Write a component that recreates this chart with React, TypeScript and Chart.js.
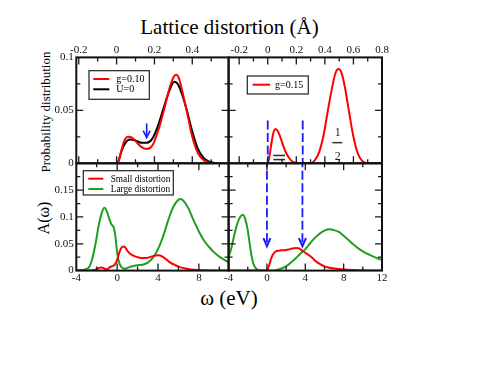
import React, { useEffect, useRef } from 'react';
import { Chart, registerables } from 'chart.js';

Chart.register(...registerables);

const W = 494;
const H = 382;
const SERIF = "'Liberation Serif', 'Times New Roman', Times, serif";

// ---------------- tick labels ----------------
const distTicksLeft = [-0.2, 0, 0.2, 0.4];
const distMinorLeft = [-0.1, 0.1, 0.3, 0.5];
const distTicksRight = [-0.2, 0, 0.2, 0.4, 0.6, 0.8];
const distMinorRight = [-0.1, 0.1, 0.3, 0.5, 0.7];
const omegaTicksLeft = [-4, 0, 4, 8];
const omegaTicksRight = [-4, 0, 4, 8, 12];
const omegaMinor = [-2, 2, 6, 10];
const probTicks = [0, 0.05, 0.1];
const probMinor = [0.025, 0.075];
const specTicks = [0, 0.05, 0.1, 0.15];
const specMinor = [0.025, 0.075, 0.125, 0.175];

// ---------------- series: probability distribution (lattice distortion, Å) ----------------
const g010Dist = [0, 0.01, 0.025, 0.04, 0.06, 0.08, 0.1, 0.13, 0.16, 0.19, 0.22, 0.25, 0.28, 0.3, 0.315, 0.33, 0.35, 0.37, 0.4, 0.43, 0.46, 0.49, 0.52];
const g010Prob = [0, 0.002, 0.012, 0.021, 0.025, 0.0245, 0.021, 0.0155, 0.0135, 0.017, 0.031, 0.05, 0.071, 0.081, 0.0835, 0.08, 0.066, 0.05, 0.025, 0.0095, 0.003, 0.0005, 0];
const u0Dist = [0, 0.01, 0.025, 0.045, 0.07, 0.1, 0.13, 0.16, 0.19, 0.22, 0.25, 0.28, 0.305, 0.325, 0.35, 0.37, 0.4, 0.43, 0.46, 0.49, 0.53];
const u0Prob = [0, 0.002, 0.011, 0.019, 0.0225, 0.0215, 0.0195, 0.0195, 0.0235, 0.036, 0.053, 0.069, 0.077, 0.0745, 0.063, 0.051, 0.03, 0.0135, 0.005, 0.0015, 0];
const g015Dist = [0, 0.01, 0.025, 0.04, 0.055, 0.07, 0.09, 0.11, 0.13, 0.15, 0.17, 0.2, 0.23, 0.3, 0.33, 0.36, 0.39, 0.42, 0.45, 0.475, 0.495, 0.515, 0.54, 0.57, 0.6, 0.63, 0.66, 0.7, 0.8];
const g015Prob = [0, 0.005, 0.018, 0.029, 0.0325, 0.0305, 0.024, 0.016, 0.0095, 0.005, 0.002, 0.0005, 0, 0, 0.003, 0.0105, 0.026, 0.049, 0.071, 0.0855, 0.089, 0.086, 0.072, 0.048, 0.025, 0.0095, 0.0025, 0, 0];

// ---------------- series: spectral function A(ω) ----------------
const smallLeftOmega = [-4, -2.6, -2.2, -1.9, -1.55, -1.25, -1.0, -0.75, -0.4, -0.2, 0.0, 0.2, 0.4, 0.6, 0.8, 1.0, 1.3, 1.7, 2.1, 2.5, 3.0, 3.5, 4.0, 4.4, 4.8, 5.2, 5.7, 6.2, 6.8, 7.5, 8.5, 10, 10.91];
const smallLeftA = [0, 0, 0.001, 0.004, 0.006, 0.004, 0.002, 0.006, 0.009, 0.012, 0.02, 0.033, 0.042, 0.045, 0.043, 0.037, 0.031, 0.027, 0.0245, 0.0235, 0.024, 0.027, 0.0285, 0.0265, 0.021, 0.015, 0.01, 0.006, 0.0035, 0.0015, 0.0005, 0, 0];
const largeLeftOmega = [-4, -3.5, -3, -2.7, -2.4, -2.1, -1.8, -1.5, -1.25, -1.0, -0.75, -0.55, -0.35, -0.2, -0.05, 0.1, 0.25, 0.45, 0.75, 1.0, 1.4, 2.0, 2.5, 3.0, 3.5, 4.0, 4.5, 5.0, 5.5, 6.0, 6.2, 6.5, 7.0, 7.5, 8.0, 8.5, 9.0, 9.5, 10.0, 10.5, 10.91];
const largeLeftA = [0, 0.001, 0.003, 0.008, 0.025, 0.052, 0.085, 0.108, 0.117, 0.11, 0.095, 0.086, 0.081, 0.068, 0.042, 0.022, 0.012, 0.006, 0.0035, 0.005, 0.0075, 0.01, 0.011, 0.015, 0.024, 0.04, 0.064, 0.094, 0.119, 0.132, 0.1335, 0.13, 0.115, 0.093, 0.073, 0.056, 0.044, 0.034, 0.026, 0.02, 0.016];
const smallRightOmega = [-4, -0.05, 0.1, 0.25, 0.45, 0.6, 0.8, 1.1, 1.5, 2.0, 2.5, 3.0, 3.3, 3.7, 4.1, 4.6, 5.0, 5.5, 6.0, 6.5, 7.0, 8.0, 9.0, 10, 11, 12];
const smallRightA = [0, 0, 0.004, 0.011, 0.023, 0.029, 0.034, 0.037, 0.0378, 0.0385, 0.0405, 0.042, 0.0415, 0.037, 0.032, 0.026, 0.019, 0.0125, 0.008, 0.0055, 0.004, 0.002, 0.001, 0.0005, 0, 0];
const largeRightOmega = [-4, -3.7, -3.4, -3.1, -2.8, -2.5, -2.25, -2.0, -1.8, -1.6, -1.4, -1.1, -0.6, 0.5, 1.0, 1.5, 2.0, 2.5, 3.0, 3.5, 4.0, 4.5, 5.0, 5.5, 6.0, 6.5, 7.0, 7.5, 8.0, 8.5, 9.0, 9.5, 10.0, 10.5, 11.0, 11.5, 12.0];
const largeRightA = [0.024, 0.043, 0.067, 0.087, 0.1, 0.104, 0.095, 0.075, 0.05, 0.027, 0.012, 0.003, 0, 0, 0.001, 0.004, 0.008, 0.015, 0.023, 0.032, 0.04, 0.051, 0.061, 0.069, 0.0745, 0.077, 0.0755, 0.072, 0.065, 0.057, 0.049, 0.042, 0.036, 0.031, 0.027, 0.023, 0.02];

// ---------------- annotations (data coordinates) ----------------
const solidArrowDist = 0.159;
const solidArrowProb = [0.0377, 0.0243];
const dashedArrowDist = [0, 0.245];
const dashedArrowOmega = [0, 3.7];
const dashedTopProb = 0.0403;
const dashedTipA = 0.0456;

const RED = '#ff0000';
const GREEN = '#1f9f1f';
const BLACK = '#000000';
const BLUE = '#1a1aff';

// panel geometry
const PL = 76.3, PM = 228.6, PR = 382, PT = 57.4, PH = 163.3, PB = 270.6;
const AXIS_BAND = 30; // room given to each labelled axis

type Series = { label: string; x: number[]; y: number[]; color: string };
type Panel = {
  area: [number, number, number, number];
  xPos: 'top' | 'bottom';
  xRange: [number, number];
  xTicks: number[];
  xMinor: number[];
  yRange: [number, number];
  yTicks: number[];
  yMinor: number[];
  yLabels: boolean;
  series: Series[];
  extra?: (chart: any) => void;
};

function drawLegend(chart: any, box: number[], lineX: number[], textX: number, rows: number[], size: number) {
  const { ctx, chartArea: a } = chart;
  ctx.save();
  ctx.fillStyle = '#ffffff';
  ctx.fillRect(a.left + box[0], a.top + box[1], box[2], box[3]);
  ctx.strokeStyle = '#222';
  ctx.lineWidth = 1.2;
  ctx.strokeRect(a.left + box[0], a.top + box[1], box[2], box[3]);
  chart.data.datasets.forEach((d: any, i: number) => {
    const y = a.top + rows[i];
    ctx.strokeStyle = d.borderColor;
    ctx.lineWidth = 2;
    ctx.beginPath();
    ctx.moveTo(a.left + lineX[0], y);
    ctx.lineTo(a.left + lineX[1], y);
    ctx.stroke();
    ctx.fillStyle = '#000';
    ctx.font = `${size}px ${SERIF}`;
    ctx.textAlign = 'left';
    ctx.textBaseline = 'middle';
    ctx.fillText(d.label, a.left + textX, y + 0.5);
  });
  ctx.restore();
}

function arrowHead(ctx: any, x: number, tip: number, w: number, h: number) {
  ctx.setLineDash([]);
  ctx.beginPath();
  ctx.moveTo(x - w, tip - h);
  ctx.lineTo(x, tip);
  ctx.lineTo(x + w, tip - h);
  ctx.stroke();
}

function makeFrame(p: Panel) {
  return {
    id: 'frameAndMarks',
    afterDraw(chart: any) {
      const { ctx, chartArea: a } = chart;
      const xs = chart.scales.x;
      const ys = chart.scales.y;
      ctx.save();
      if (p.extra) p.extra(chart);
      ctx.strokeStyle = '#1a1a1a';
      ctx.lineWidth = 1.3;
      ctx.setLineDash([]);
      const xt = (vals: number[], len: number) => {
        for (const v of vals) {
          const px = xs.getPixelForValue(v);
          if (px <= a.left + 1 || px >= a.right - 1) continue;
          ctx.beginPath();
          ctx.moveTo(px, a.top);
          ctx.lineTo(px, a.top + len);
          ctx.moveTo(px, a.bottom);
          ctx.lineTo(px, a.bottom - len);
          ctx.stroke();
        }
      };
      const yt = (vals: number[], len: number) => {
        for (const v of vals) {
          const py = ys.getPixelForValue(v);
          if (py <= a.top + 1 || py >= a.bottom - 1) continue;
          ctx.beginPath();
          ctx.moveTo(a.left, py);
          ctx.lineTo(a.left + len, py);
          ctx.moveTo(a.right, py);
          ctx.lineTo(a.right - len, py);
          ctx.stroke();
        }
      };
      xt(p.xTicks, 7);
      xt(p.xMinor, 4);
      yt(p.yTicks, 7);
      yt(p.yMinor, 4);
      ctx.lineWidth = 2;
      ctx.strokeStyle = '#111';
      ctx.strokeRect(a.left, a.top, a.right - a.left, a.bottom - a.top);
      ctx.restore();
    },
  };
}

function buildChart(canvas: HTMLCanvasElement, p: Panel) {
  const [l, t, r, b] = p.area;
  const tickFont = { family: SERIF, size: 11 };
  const yBand = p.yLabels ? AXIS_BAND : 0;
  const pad = {
    left: l - yBand,
    top: p.xPos === 'top' ? t - AXIS_BAND : t,
    right: W - r,
    bottom: p.xPos === 'bottom' ? H - b - AXIS_BAND : H - b,
  };
  return new Chart(canvas, {
    type: 'scatter',
    data: {
      datasets: p.series.map((s) => ({
        label: s.label,
        data: s.x.map((xv, i) => ({ x: xv, y: s.y[i] })),
        showLine: true,
        borderColor: s.color,
        backgroundColor: s.color,
        borderWidth: 2,
        pointRadius: 0,
        pointHoverRadius: 0,
        fill: false,
        cubicInterpolationMode: 'monotone',
      })),
    },
    options: {
      responsive: false,
      animation: false,
      events: [],
      devicePixelRatio: 1,
      layout: { autoPadding: false, padding: pad },
      plugins: { legend: { display: false }, tooltip: { enabled: false }, title: { display: false } },
      scales: {
        x: {
          type: 'linear',
          position: p.xPos,
          min: p.xRange[0],
          max: p.xRange[1],
          afterBuildTicks: (s: any) => {
            s.ticks = p.xTicks.map((v) => ({ value: v }));
          },
          afterFit: (s: any) => {
            s.height = AXIS_BAND;
          },
          ticks: {
            autoSkip: false,
            maxRotation: 0,
            minRotation: 0,
            padding: p.xPos === 'top' ? 0.6 : 0.8,
            font: tickFont,
            color: '#111',
            callback: (v: any) => String(v),
          },
          grid: { display: false, drawTicks: false },
          border: { display: false },
        },
        y: {
          type: 'linear',
          display: p.yLabels,
          min: p.yRange[0],
          max: p.yRange[1],
          afterBuildTicks: (s: any) => {
            s.ticks = p.yTicks.map((v) => ({ value: v }));
          },
          afterFit: (s: any) => {
            s.width = yBand;
          },
          ticks: {
            autoSkip: false,
            padding: 2.5,
            font: tickFont,
            color: '#111',
            callback: (v: any) => String(v),
          },
          grid: { display: false, drawTicks: false },
          border: { display: false },
        },
      },
    } as any,
    plugins: [makeFrame(p)],
  });
}

const panels: Panel[] = [
  {
    area: [PL, PT, PM, PH],
    xPos: 'top',
    xRange: [-0.213, 0.592],
    xTicks: distTicksLeft,
    xMinor: distMinorLeft,
    yRange: [0, 0.1],
    yTicks: probTicks,
    yMinor: probMinor,
    yLabels: true,
    series: [
      { label: 'g=0.10', x: g010Dist, y: g010Prob, color: RED },
      { label: 'U=0', x: u0Dist, y: u0Prob, color: BLACK },
    ],
    extra: (chart: any) => {
      const { ctx } = chart;
      const xs = chart.scales.x;
      const ys = chart.scales.y;
      drawLegend(chart, [12.7, 13.3, 60.3, 28.6], [17, 33], 40, [21.6, 31.9], 10);
      const x = xs.getPixelForValue(solidArrowDist);
      const y0 = ys.getPixelForValue(solidArrowProb[0]);
      const y1 = ys.getPixelForValue(solidArrowProb[1]);
      ctx.strokeStyle = BLUE;
      ctx.lineWidth = 1.6;
      ctx.beginPath();
      ctx.moveTo(x, y0);
      ctx.lineTo(x, y1);
      ctx.stroke();
      arrowHead(ctx, x, y1, 3.5, 7);
    },
  },
  {
    area: [PM, PT, PR, PH],
    xPos: 'top',
    xRange: [-0.274, 0.8],
    xTicks: distTicksRight,
    xMinor: distMinorRight,
    yRange: [0, 0.1],
    yTicks: probTicks,
    yMinor: probMinor,
    yLabels: false,
    series: [{ label: 'g=0.15', x: g015Dist, y: g015Prob, color: RED }],
    extra: (chart: any) => {
      const { ctx, chartArea: a } = chart;
      const xs = chart.scales.x;
      const ys = chart.scales.y;
      drawLegend(chart, [18.7, 18.6, 61, 18], [24.1, 41.4], 46.4, [27.3], 10);
      ctx.strokeStyle = BLUE;
      ctx.lineWidth = 1.8;
      ctx.setLineDash([9, 3.5]);
      for (const d of dashedArrowDist) {
        const x = xs.getPixelForValue(d);
        ctx.beginPath();
        ctx.moveTo(x, ys.getPixelForValue(dashedTopProb));
        ctx.lineTo(x, a.bottom);
        ctx.stroke();
      }
      ctx.setLineDash([]);
      ctx.strokeStyle = '#333';
      ctx.lineWidth = 1.6;
      for (const yv of [0.0074, 0.0035]) {
        const py = ys.getPixelForValue(yv);
        ctx.beginPath();
        ctx.moveTo(xs.getPixelForValue(0.039), py);
        ctx.lineTo(xs.getPixelForValue(0.121), py);
        ctx.stroke();
      }
      const fx = xs.getPixelForValue(0.49);
      ctx.fillStyle = '#222';
      ctx.font = `12px ${SERIF}`;
      ctx.textAlign = 'center';
      ctx.textBaseline = 'middle';
      ctx.fillText('1', fx, ys.getPixelForValue(0.0292));
      ctx.fillText('2', fx, ys.getPixelForValue(0.0062));
      const by = ys.getPixelForValue(0.0195);
      ctx.lineWidth = 1.5;
      ctx.beginPath();
      ctx.moveTo(xs.getPixelForValue(0.452), by);
      ctx.lineTo(xs.getPixelForValue(0.522), by);
      ctx.stroke();
    },
  },
  {
    area: [PL, PH, PM, PB],
    xPos: 'bottom',
    xRange: [-4, 10.91],
    xTicks: omegaTicksLeft,
    xMinor: omegaMinor,
    yRange: [0, 0.2],
    yTicks: specTicks,
    yMinor: specMinor,
    yLabels: true,
    series: [
      { label: 'Small distortion', x: smallLeftOmega, y: smallLeftA, color: RED },
      { label: 'Large distortion', x: largeLeftOmega, y: largeLeftA, color: GREEN },
    ],
    extra: (chart: any) => {
      drawLegend(chart, [7, 7.4, 90, 24.3], [12, 27], 34.4, [15.4, 25.7], 9.3);
    },
  },
  {
    area: [PM, PH, PR, PB],
    xPos: 'bottom',
    xRange: [-4, 12],
    xTicks: omegaTicksRight,
    xMinor: omegaMinor,
    yRange: [0, 0.2],
    yTicks: specTicks,
    yMinor: specMinor,
    yLabels: false,
    series: [
      { label: 'Small distortion', x: smallRightOmega, y: smallRightA, color: RED },
      { label: 'Large distortion', x: largeRightOmega, y: largeRightA, color: GREEN },
    ],
    extra: (chart: any) => {
      const { ctx, chartArea: a } = chart;
      const xs = chart.scales.x;
      const ys = chart.scales.y;
      ctx.strokeStyle = BLUE;
      ctx.lineWidth = 1.8;
      for (const w of dashedArrowOmega) {
        const x = xs.getPixelForValue(w);
        const tip = ys.getPixelForValue(dashedTipA);
        ctx.setLineDash([9, 3.5]);
        ctx.lineDashOffset = 42.5 % 12.5;
        ctx.beginPath();
        ctx.moveTo(x, a.top);
        ctx.lineTo(x, tip - 1);
        ctx.stroke();
        ctx.lineWidth = 2;
        arrowHead(ctx, x, tip, 3.5, 8);
        ctx.lineWidth = 1.8;
      }
      ctx.setLineDash([]);
      ctx.lineDashOffset = 0;
    },
  },
];

function PanelCanvas({ p }: { p: Panel }) {
  const ref = useRef<HTMLCanvasElement>(null);
  useEffect(() => {
    const c = buildChart(ref.current as HTMLCanvasElement, p);
    return () => c.destroy();
  }, [p]);
  return (
    <canvas
      ref={ref}
      width={W}
      height={H}
      style={{ position: 'absolute', left: 0, top: 0, width: W, height: H }}
    />
  );
}

export default function App() {
  const txt: React.CSSProperties = {
    position: 'absolute',
    fontFamily: SERIF,
    color: '#000',
    whiteSpace: 'nowrap',
  };
  return (
    <div
      style={{
        position: 'fixed',
        left: 0,
        top: 0,
        width: W,
        height: H,
        background: '#fff',
        overflow: 'hidden',
      }}
    >
      <div style={{ ...txt, left: 229.5, top: 17.4, fontSize: 21, lineHeight: '21px', transform: 'translateX(-50%)' }}>
        Lattice distortion (Å)
      </div>
      <div style={{ ...txt, left: 229, top: 288.1, fontSize: 21, lineHeight: '21px', transform: 'translateX(-50%)' }}>
        ω (eV)
      </div>
      <div
        style={{
          ...txt,
          left: 45,
          top: 111.7,
          fontSize: 13,
          lineHeight: '13px',
          transform: 'translate(-50%, -50%) rotate(-90deg)',
        }}
      >
        Probability distribution
      </div>
      <div
        style={{
          ...txt,
          left: 44,
          top: 217.5,
          fontSize: 16,
          lineHeight: '16px',
          transform: 'translate(-50%, -50%) rotate(-90deg)',
        }}
      >
        A(ω)
      </div>
      {panels.map((p, i) => (
        <PanelCanvas key={i} p={p} />
      ))}
    </div>
  );
}
